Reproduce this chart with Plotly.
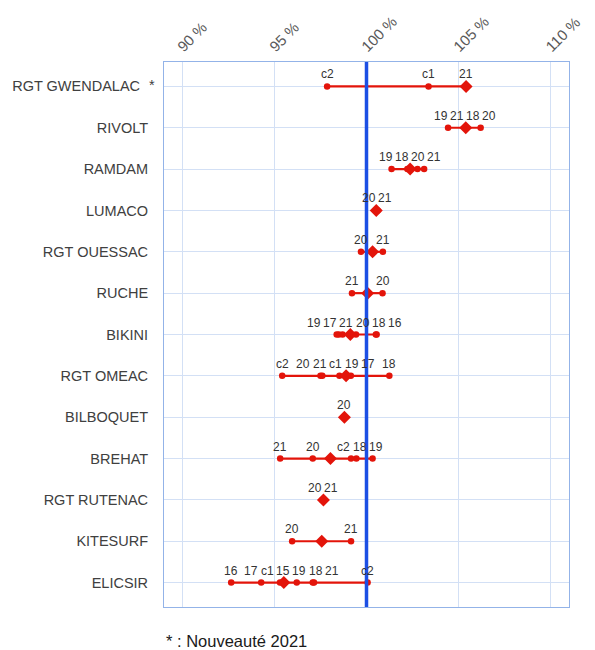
import plotly.graph_objects as go

categories = ["RGT GWENDALAC", "RIVOLT", "RAMDAM", "LUMACO", "RGT OUESSAC", "RUCHE",
              "BIKINI", "RGT OMEAC", "BILBOQUET", "BREHAT", "RGT RUTENAC", "KITESURF", "ELICSIR"]
new_in_2021 = ["RGT GWENDALAC"]

point_labels = [
    ["c2", "c1", "21"],
    ["19", "21", "18", "20"],
    ["19", "18", "20", "21"],
    ["20", "21"],
    ["20", "21"],
    ["21", "20"],
    ["19", "17", "21", "20", "18", "16"],
    ["c2", "20", "21", "c1", "19", "17", "18"],
    ["20"],
    ["21", "20", "c2", "18", "19"],
    ["20", "21"],
    ["20", "21"],
    ["16", "17", "c1", "15", "19", "18", "21", "c2"],
]

point_values = [
    [97.86, 103.37, 105.41],
    [104.43, 105.35, 105.42, 106.2],
    [101.36, 102.22, 102.77, 103.13],
    [100.5, 100.6],
    [99.70, 100.89],
    [99.21, 100.87],
    [98.38, 98.5, 98.7, 99.43, 100.51, 100.55],
    [95.42, 97.5, 97.6, 98.53, 98.9, 99.15, 101.24],
    [98.80],
    [95.31, 97.08, 99.16, 99.45, 100.33],
    [97.6, 97.7],
    [95.96, 99.16],
    [92.65, 94.28, 95.3, 95.5, 96.21, 97.08, 97.15, 100.06],
]

diamond_values = [105.41, 105.39, 102.37, 100.53, 100.33, 100.06, 99.12, 98.89, 98.80,
                  98.04, 97.66, 97.57, 95.51]

x_ticks = [90, 95, 100, 105, 110]
x_tick_labels = ["90 %", "95 %", "100 %", "105 %", "110 %"]
reference_value = 100
footnote = "* : Nouveauté 2021"

RED = "#e3140a"
BLUE = "#1c4fe4"
GRID = "#d3e0f5"
LABEL_GAP = 0.88
FONT = "Liberation Sans, Arial"


def spread_labels(vals, gap):
    order = sorted(range(len(vals)), key=lambda i: vals[i])
    clusters = [[i] for i in order]

    def place(c):
        center = sum(vals[i] for i in c) / len(c)
        start = center - (len(c) - 1) * gap / 2
        return start, start + (len(c) - 1) * gap

    changed = True
    while changed:
        changed = False
        for k in range(len(clusters) - 1):
            s1, e1 = place(clusters[k])
            s2, e2 = place(clusters[k + 1])
            if s2 - e1 < gap - 1e-9:
                clusters[k] = clusters[k] + clusters[k + 1]
                del clusters[k + 1]
                changed = True
                break
    pos = [0.0] * len(vals)
    for c in clusters:
        s, _ = place(c)
        for j, i in enumerate(c):
            pos[i] = s + j * gap
    return pos


fig = go.Figure()

lx, ly = [], []
for r, vals in enumerate(point_values):
    lo, hi = min(vals + [diamond_values[r]]), max(vals + [diamond_values[r]])
    lx += [lo, hi, None]
    ly += [r, r, None]
fig.add_trace(go.Scatter(x=lx, y=ly, mode="lines", line=dict(color=RED, width=2.2),
                         hoverinfo="skip", showlegend=False))

px, py = [], []
for r, vals in enumerate(point_values):
    px += vals
    py += [r] * len(vals)
fig.add_trace(go.Scatter(x=px, y=py, mode="markers",
                         marker=dict(color=RED, size=6.5, symbol="circle"),
                         showlegend=False))

fig.add_trace(go.Scatter(x=diamond_values, y=list(range(len(categories))), mode="markers",
                         marker=dict(color=RED, size=10, symbol="diamond"),
                         showlegend=False))

annotations = []
for r, (labs, vals) in enumerate(zip(point_labels, point_values)):
    pos = spread_labels(vals, LABEL_GAP)
    for lab, p in zip(labs, pos):
        annotations.append(dict(x=p, y=r, xref="x", yref="y", text=lab, showarrow=False,
                                yshift=12, font=dict(size=12, color="#333333", family=FONT)))

tick_text = []
for r, c in enumerate(categories):
    if c in new_in_2021:
        tick_text.append(c + "\u00a0\u00a0")
        annotations.append(dict(x=-0.029, y=r, xref="paper", yref="y", text="*",
                                showarrow=False, xanchor="center", yshift=1,
                                font=dict(size=14.5, color="#404040", family=FONT)))
    else:
        tick_text.append(c)

annotations.append(dict(x=0, y=-0.0625, xref="paper", yref="paper", text=footnote,
                        showarrow=False, xanchor="left", yanchor="middle",
                        font=dict(size=16.5, color="#1a1a1a", family=FONT)))

fig.update_layout(
    width=587, height=642,
    margin=dict(l=156, r=26, t=54, b=43),
    paper_bgcolor="white", plot_bgcolor="white",
    showlegend=False,
    annotations=annotations,
    shapes=[dict(type="line", x0=reference_value, x1=reference_value, xref="x",
                 y0=0, y1=1, yref="paper", layer="above",
                 line=dict(color=BLUE, width=3.5))],
    xaxis=dict(range=[89, 111], side="top", tickmode="array", tickvals=x_ticks,
               ticktext=x_tick_labels, tickangle=-45, showgrid=True, gridcolor=GRID,
               gridwidth=1, zeroline=False, showline=True, linecolor="#93b3e8",
               mirror=True, linewidth=1, ticks="", automargin=False,
               ticklabelshift=-4,
               tickfont=dict(size=15, color="#5a5a5a", family=FONT)),
    yaxis=dict(range=[12.59, -0.59], tickmode="array",
               tickvals=list(range(len(categories))), ticktext=tick_text,
               showgrid=True, gridcolor=GRID, gridwidth=1, zeroline=False,
               showline=True, linecolor="#93b3e8", mirror=True, linewidth=1, ticks="",
               ticklabelstandoff=12, automargin=False,
               tickfont=dict(size=14.5, color="#404040", family=FONT)),
)

fig.write_html("out.html")
